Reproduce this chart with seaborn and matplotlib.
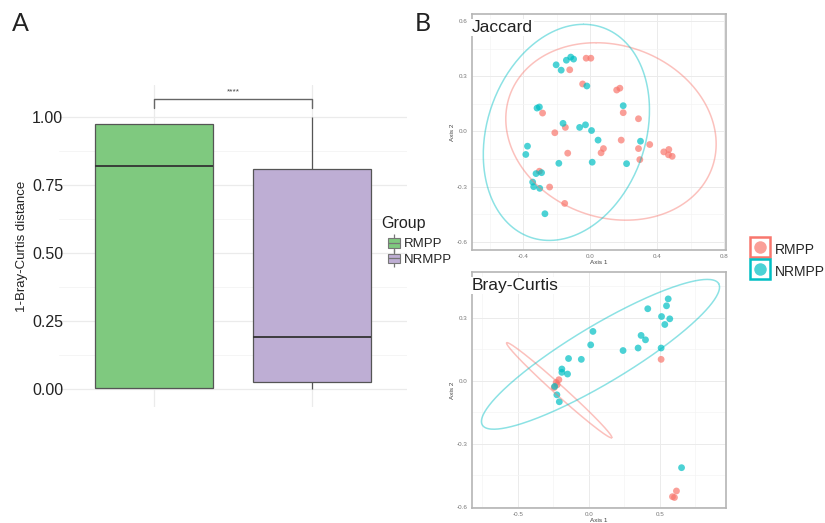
import numpy as np
import pandas as pd
import matplotlib
matplotlib.use("Agg")
import matplotlib.pyplot as plt
import seaborn as sns
from matplotlib.patches import Patch
from matplotlib.lines import Line2D

sns.set_theme(style="white")
plt.rcParams['font.family'] = ['Liberation Sans', 'DejaVu Sans']

# ---------------- Data ----------------
groups = ["RMPP", "NRMPP"]
# five-number summaries (min, Q1, median, Q3, max)
rmpp_sim = [0.005, 0.005, 0.82, 0.975, 0.975]
nrmpp_sim = [0.0, 0.025, 0.19, 0.81, 1.0]
y_ticks_a = [0.00, 0.25, 0.50, 0.75, 1.00]
signif_label = "****"

# Jaccard PCoA
jac_rmpp_x = [-0.024, 0.004, -0.122, -0.045, 0.158, 0.177, 0.197, -0.284, 0.288, -0.148,
              -0.211, 0.185, 0.079, 0.065, 0.288, 0.296, 0.355, 0.439, 0.469, 0.467,
              0.489, -0.303, -0.242, -0.152, -0.134]
jac_rmpp_y = [0.398, 0.398, 0.335, 0.258, 0.225, 0.235, 0.102, 0.100, 0.069, 0.022,
              -0.007, -0.047, -0.093, -0.116, -0.093, -0.153, -0.071, -0.111, -0.098, -0.127,
              -0.135, -0.216, -0.302, -0.391, -0.118]
jac_nrmpp_x = [-0.203, -0.173, -0.142, -0.116, -0.099, -0.020, -0.317, -0.303, 0.197, -0.162,
               -0.063, -0.028, 0.008, 0.047, 0.300, -0.374, -0.384, -0.187, 0.012, 0.217,
               -0.323, -0.290, -0.343, -0.337, -0.301, -0.270]
jac_nrmpp_y = [0.362, 0.333, 0.387, 0.404, 0.393, 0.247, 0.127, 0.133, 0.140, 0.044,
               0.022, 0.036, 0.005, -0.047, -0.053, -0.080, -0.125, -0.173, -0.167, -0.175,
               -0.229, -0.224, -0.275, -0.300, -0.309, -0.447]

# Bray-Curtis PCoA
bc_rmpp_x = [0.508, -0.212, -0.231, -0.224, -0.245, 0.616, 0.588, 0.602]
bc_rmpp_y = [0.102, 0.005, -0.008, -0.019, -0.032, -0.525, -0.552, -0.556]
bc_nrmpp_x = [0.558, 0.414, 0.546, 0.511, 0.569, 0.534, 0.028, 0.012, 0.367, 0.398,
              0.240, 0.346, 0.508, -0.144, -0.054, -0.191, -0.191, -0.151, -0.242, -0.226,
              -0.209, 0.652]
bc_nrmpp_y = [0.390, 0.343, 0.357, 0.306, 0.295, 0.268, 0.235, 0.171, 0.216, 0.195,
              0.144, 0.156, 0.156, 0.106, 0.102, 0.056, 0.040, 0.032, -0.027, -0.067,
              -0.100, -0.414]

# 95% ellipses: centre x, centre y, semi-diameter A (x, y), conjugate semi-diameter B (x, y)
jac_ell_rmpp = [0.124, 0.0, -0.089, 0.482, 0.621, 0.0]
jac_ell_nrmpp = [-0.142, -0.005, 0.102, 0.587, 0.485, 0.0]
bc_ell_rmpp = [-0.21, -0.045, 0.370, -0.226, 0.024, 0.017]
bc_ell_nrmpp = [0.081, 0.126, 0.832, 0.337, 0.104, -0.117]

jac_xticks = [-0.4, 0.0, 0.4, 0.8]
jac_yticks = [-0.6, -0.3, 0.0, 0.3, 0.6]
bc_xticks = [-0.5, 0.0, 0.5]
bc_yticks = [-0.6, -0.3, 0.0, 0.3]

# ---------------- Styles ----------------
box_colors = {"RMPP": "#7FC97F", "NRMPP": "#BEAED4"}
pt_colors = {"RMPP": "#F8766D", "NRMPP": "#00BFC4"}
grid_major = "#EBEBEB"
grid_minor = "#F4F4F4"

fig = plt.figure(figsize=(8.25, 5.23), dpi=100)

# ---------------- Panel A ----------------
axA = fig.add_axes([0.0715, 0.2218, 0.4218, 0.6157])
dfA = pd.DataFrame({
    "Group": ["RMPP"] * len(rmpp_sim) + ["NRMPP"] * len(nrmpp_sim),
    "sim": rmpp_sim + nrmpp_sim,
})
axA.set_axisbelow(True)
sns.boxplot(data=dfA, x="Group", y="sim", hue="Group", order=groups, hue_order=groups,
            palette=box_colors, width=0.75, linecolor="#555555", linewidth=0.9,
            saturation=1, legend=False, showcaps=False, whis=1.5,
            medianprops=dict(color="#333333", linewidth=1.3), ax=axA)
axA.set_yticks(y_ticks_a)
axA.set_yticklabels([f"{v:.2f}" for v in y_ticks_a], fontsize=11.5, color="#222222")
axA.set_yticks([0.125, 0.375, 0.625, 0.875], minor=True)
axA.set_xticks([0, 1])
axA.set_xticklabels([])
axA.set_xlim(-0.6, 1.6)
axA.set_ylim(-0.066, 1.118)
axA.tick_params(axis="both", which="both", length=0, pad=-3)
axA.grid(True, which="major", color=grid_major, linewidth=0.9)
axA.grid(True, which="minor", axis="y", color=grid_minor, linewidth=0.6)
for s in axA.spines.values():
    s.set_visible(False)
axA.set_xlabel("")
axA.set_ylabel("1-Bray-Curtis distance", fontsize=9.5, color="#222222", labelpad=3)

# significance bracket
axA.plot([0, 0, 1, 1], [1.035, 1.066, 1.066, 1.035], color="#666666", linewidth=1.0)
axA.text(0.5, 1.08, signif_label, ha="center", va="bottom", fontsize=6, color="#444444")

# legend for panel A (boxplot key glyphs)
legA_handles = []
for g in groups:
    wl = Line2D([], [], marker="|", markersize=13, markeredgecolor="#777777",
                markeredgewidth=0.9, linestyle="none")
    bx = Patch(facecolor=box_colors[g], edgecolor="#777777", linewidth=0.8)
    md = Line2D([], [], marker="_", markersize=9, markeredgecolor="#777777",
                markeredgewidth=0.9, linestyle="none")
    legA_handles.append((wl, bx, md))
fig.text(0.4618, 0.572, "Group", fontsize=11.5, color="#222222", va="center", ha="left")
fig.legend(handles=legA_handles, labels=groups, loc="upper left",
           bbox_to_anchor=(0.470, 0.545), frameon=False, fontsize=9.5,
           handlelength=0.95, handleheight=0.75, handletextpad=0.25,
           labelspacing=0.25, borderaxespad=0, borderpad=0)

fig.text(0.014, 0.955, "A", fontsize=18, family=["Lato", "DejaVu Sans"], color="#222222",
         va="center", ha="left")
fig.text(0.503, 0.955, "B", fontsize=18, family=["Lato", "DejaVu Sans"], color="#222222",
         va="center", ha="left")


def draw_ellipse(ax, p, color):
    t = np.linspace(0, 2 * np.pi, 300)
    ex = p[0] + p[2] * np.cos(t) + p[4] * np.sin(t)
    ey = p[1] + p[3] * np.cos(t) + p[5] * np.sin(t)
    ax.plot(ex, ey, color=color, linewidth=1.1, alpha=0.45)


def pcoa_panel(rect, rx, ry, nx, ny, ell_r, ell_n, xlim, ylim, xticks, yticks, title):
    ax = fig.add_axes(rect)
    df = pd.DataFrame({
        "Axis.1": rx + nx,
        "Axis.2": ry + ny,
        "Group": ["RMPP"] * len(rx) + ["NRMPP"] * len(nx),
    })
    ax.set_axisbelow(True)
    sns.scatterplot(data=df, x="Axis.1", y="Axis.2", hue="Group", hue_order=groups,
                    palette=pt_colors, s=24, alpha=0.7, edgecolor="none", legend=False, ax=ax)
    draw_ellipse(ax, ell_r, pt_colors["RMPP"])
    draw_ellipse(ax, ell_n, pt_colors["NRMPP"])
    ax.set_xticks(xticks)
    ax.set_xticklabels([f"{v:.1f}" for v in xticks], fontsize=4.5, color="#777777")
    ax.set_yticks(yticks)
    ax.set_yticklabels([f"{v:.1f}" for v in yticks], fontsize=4.5, color="#777777")
    xs = np.diff(xticks)[0]
    ys = np.diff(yticks)[0]
    ax.set_xticks([v + xs / 2 for v in [xticks[0] - xs] + list(xticks)], minor=True)
    ax.set_yticks([v + ys / 2 for v in [yticks[0] - ys] + list(yticks)], minor=True)
    ax.set_xlim(*xlim)
    ax.set_ylim(*ylim)
    ax.tick_params(axis="both", which="major", length=2, width=0.5, color="#888888", pad=1.2)
    ax.tick_params(axis="both", which="minor", length=0)
    ax.grid(True, which="major", color=grid_major, linewidth=0.7)
    ax.grid(True, which="minor", color=grid_minor, linewidth=0.5)
    for s in ax.spines.values():
        s.set_color("#B5B5B5")
        s.set_linewidth(1.2)
    ax.set_xlabel("Axis 1", fontsize=4.6, color="#444444")
    ax.xaxis.set_label_coords(0.5, -0.043)
    ax.xaxis.label.set_va("top")
    ax.set_ylabel("Axis 2", fontsize=4.6, color="#444444", labelpad=1)
    ax.text(0.0, 0.975, title, transform=ax.transAxes, ha="left", va="top", fontsize=12.5,
            color="#222222", zorder=10,
            bbox=dict(facecolor="white", edgecolor="none", pad=1.0))
    return ax


pcoa_panel([0.5721, 0.522, 0.3079, 0.4512], jac_rmpp_x, jac_rmpp_y, jac_nrmpp_x, jac_nrmpp_y,
           jac_ell_rmpp, jac_ell_nrmpp, (-0.705, 0.81), (-0.644, 0.638),
           jac_xticks, jac_yticks, "Jaccard")
pcoa_panel([0.5721, 0.0287, 0.3079, 0.4512], bc_rmpp_x, bc_rmpp_y, bc_nrmpp_x, bc_nrmpp_y,
           bc_ell_rmpp, bc_ell_nrmpp, (-0.824, 0.965), (-0.606, 0.518),
           bc_xticks, bc_yticks, "Bray-Curtis")

# legend for panel B
legB_handles = []
for g in groups:
    sq = Line2D([], [], marker="s", markersize=14, markerfacecolor="white",
                markeredgecolor=pt_colors[g], markeredgewidth=1.8, linestyle="none")
    dot = Line2D([], [], marker="o", markersize=9, markerfacecolor=pt_colors[g],
                 markeredgecolor="none", alpha=0.7, linestyle="none")
    legB_handles.append((sq, dot))
fig.legend(handles=legB_handles, labels=groups, loc="upper left",
           bbox_to_anchor=(0.910, 0.540), frameon=False, fontsize=10,
           handlelength=1.3, handleheight=1.6, handletextpad=0.45,
           labelspacing=0.3, borderaxespad=0, borderpad=0)

fig.savefig("out.png", dpi=100, facecolor="white")
